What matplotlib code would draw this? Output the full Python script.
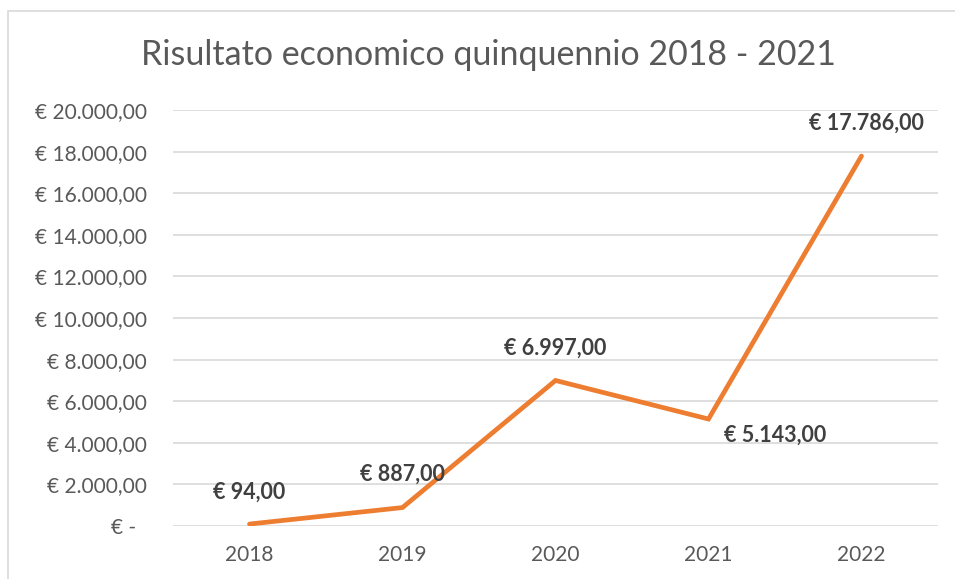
import matplotlib.pyplot as plt
from matplotlib.patches import Rectangle
from matplotlib.ticker import FuncFormatter

# Data
anni = ['2018', '2019', '2020', '2021', '2022']
risultato = [94, 887, 6997, 5143, 17786]
y_ticks = [0, 2000, 4000, 6000, 8000, 10000, 12000, 14000, 16000, 18000, 20000]

plt.rcParams['font.family'] = ['Lato', 'DejaVu Sans']


def euro(v, pos=None):
    if v == 0:
        return '€ -  '
    s = f'{v:,.2f}'.replace(',', 'X').replace('.', ',').replace('X', '.')
    return '€ ' + s


fig = plt.figure(figsize=(9.55, 5.79), dpi=100)
ax = fig.add_axes([173 / 955, 1 - 526 / 579, (938 - 173) / 955, (526 - 110) / 579])

# chart border
fig.patches.append(Rectangle((8 / 955, -0.05), 1.0, 1 - 11 / 579 + 0.05,
                             transform=fig.transFigure, fill=False,
                             edgecolor='#d9d9d9', linewidth=1.2))

x = range(len(anni))
ax.plot(x, risultato, color='#ED7D31', linewidth=3.4, solid_capstyle='round',
        solid_joinstyle='miter', zorder=3)

# data labels
offsets = [(0, 32), (0, 33), (0, 32), (67, -16), (5, 33)]
for i, (v, off) in enumerate(zip(risultato, offsets)):
    ax.annotate(euro(v), (i, v), xytext=off, textcoords='offset pixels',
                ha='center', va='center', fontsize=15.5, fontweight='bold',
                color='#404040', zorder=4)

ax.set_xlim(-0.5, len(anni) - 0.5)
ax.set_ylim(0, 20000)
ax.set_yticks(y_ticks)
ax.yaxis.set_major_formatter(FuncFormatter(euro))
ax.set_xticks(list(x))
ax.set_xticklabels(anni)
ax.grid(axis='y', color='#d9d9d9', linewidth=1.2)
ax.set_axisbelow(True)
for s in ax.spines.values():
    s.set_visible(False)
ax.tick_params(axis='both', length=0, labelsize=15, colors='#595959')
ax.tick_params(axis='y', pad=19)
ax.tick_params(axis='x', pad=14)

fig.text(488 / 955, 1 - 55 / 579, 'Risultato economico quinquennio 2018 - 2021',
         ha='center', va='center', fontsize=24.5, color='#595959')

fig.savefig('out.png', dpi=100)
